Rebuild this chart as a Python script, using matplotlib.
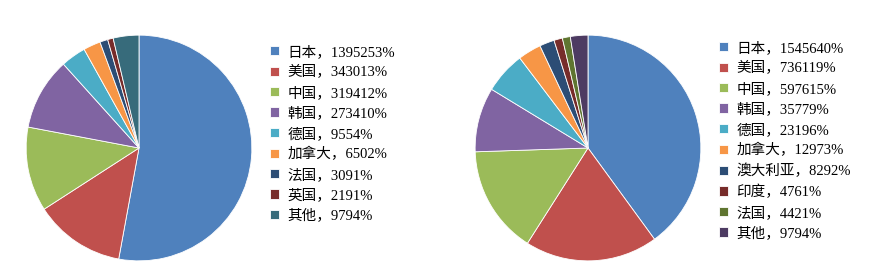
import matplotlib
matplotlib.use("Agg")
import matplotlib.pyplot as plt

plt.rcParams['font.family'] = ['Liberation Serif', 'Noto Sans CJK SC', 'DejaVu Sans']

# left pie
left_names = ["日本", "美国", "中国", "韩国", "德国", "加拿大", "法国", "英国", "其他"]
left_values = [1395, 343, 319, 273, 95, 65, 30, 21, 97]
left_tags = ["1395253%", "343013%", "319412%", "273410%", "9554%", "6502%", "3091%", "2191%", "9794%"]
left_colors = ["#4F81BD", "#C0504D", "#9BBB59", "#8064A2", "#4BACC6", "#F79646",
               "#2C4D75", "#772C2A", "#376B7B"]

# right pie
right_names = ["日本", "美国", "中国", "韩国", "德国", "加拿大", "澳大利亚", "印度", "法国", "其他"]
right_values = [1545, 736, 597, 357, 231, 129, 82, 47, 44, 97]
right_tags = ["1545640%", "736119%", "597615%", "35779%", "23196%", "12973%", "8292%",
              "4761%", "4421%", "9794%"]
right_colors = ["#4F81BD", "#C0504D", "#9BBB59", "#8064A2", "#4BACC6", "#F79646",
                "#2C4D75", "#772C2A", "#5F7530", "#4D3B62"]

W, H = 871, 276
fig = plt.figure(figsize=(W / 100, H / 100), dpi=100)


def draw_pie(cx, cy, r, values, colors, names, tags, leg_x, leg_top):
    ax = fig.add_axes([(cx - r) / W, (H - cy - r) / H, 2 * r / W, 2 * r / H])
    wedges, _ = ax.pie(values, colors=colors, startangle=90, counterclock=False,
                       wedgeprops=dict(edgecolor="white", linewidth=0.6))
    ax.set_xlim(-1.01, 1.01)
    ax.set_ylim(-1.01, 1.01)
    ax.set_aspect("equal")
    labels = [f"{n}，{t}" for n, t in zip(names, tags)]
    fig.legend(wedges, labels, loc="upper left",
               bbox_to_anchor=(leg_x / W, 1 - leg_top / H),
               frameon=False, fontsize=10.5, handlelength=0.6, handleheight=0.6,
               handletextpad=0.6, labelspacing=0.445, borderpad=0, borderaxespad=0)


draw_pie(139, 148, 114, left_values, left_colors, left_names, left_tags, 270, 45)
draw_pie(588, 148, 114, right_values, right_colors, right_names, right_tags, 719, 41)

fig.savefig("out.png", dpi=100)
